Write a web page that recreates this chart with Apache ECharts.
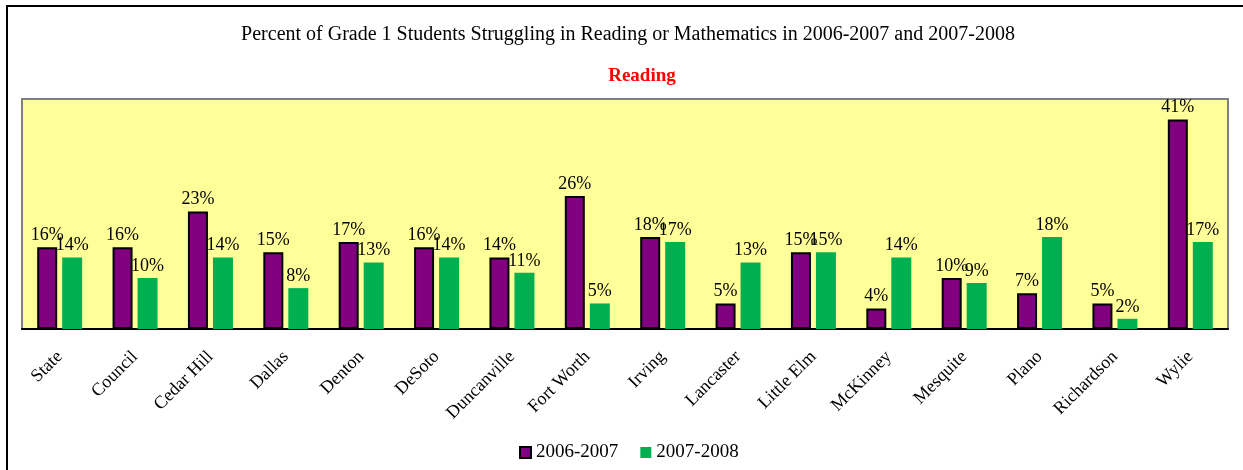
<!DOCTYPE html>
<html>
<head>
<meta charset="utf-8">
<script src="https://cdn.jsdelivr.net/npm/echarts@6/dist/echarts.min.js"></script>
<style>
  body { margin: 0; background: #fff; }
  #chart { width: 1243px; height: 470px; }
</style>
</head>
<body>
<div id="chart"></div>
<script>
// 数据
var districts = ['State', 'Council', 'Cedar Hill', 'Dallas', 'Denton', 'DeSoto', 'Duncanville', 'Fort Worth',
  'Irving', 'Lancaster', 'Little Elm', 'McKinney', 'Mesquite', 'Plano', 'Richardson', 'Wylie']
var year0607 = [16, 16, 23, 15, 17, 16, 14, 26, 18, 5, 15, 4, 10, 7, 5, 41]
var year0708 = [14, 10, 14, 8, 13, 14, 11, 5, 17, 13, 15, 14, 9, 18, 2, 17]

var serif = 'Liberation Serif, Times New Roman, serif'

var myChart = echarts.init(document.getElementById('chart'))

var labelStyle = {
  show: true,
  position: 'top',
  distance: 3,
  formatter: '{c}%',
  color: '#000',
  fontFamily: serif,
  fontSize: 18
}

var option = {
  animation: false,
  title: [
    {
      text: 'Percent of Grade 1 Students Struggling in Reading or Mathematics in 2006-2007 and 2007-2008',
      left: 623,
      textAlign: 'center',
      top: 20,
      textStyle: { fontFamily: serif, fontSize: 20, fontWeight: 'normal', color: '#000' }
    },
    {
      text: 'Reading',
      left: 637,
      textAlign: 'center',
      top: 62,
      textStyle: { fontFamily: serif, fontSize: 19, fontWeight: 'bold', color: '#ff0000' }
    }
  ],
  graphic: [
    {
      type: 'rect',
      shape: { x: 7, y: 6, width: 1260, height: 490 },
      style: { fill: 'none', stroke: '#000', lineWidth: 2 },
      silent: true
    }
  ],
  legend: {
    left: 514,
    top: 438,
    icon: 'rect',
    itemWidth: 11,
    itemHeight: 11,
    itemGap: 22,
    textStyle: { fontFamily: serif, fontSize: 19, color: '#000' },
    data: ['2006-2007', '2007-2008']
  },
  grid: {
    left: 22,
    right: 15,
    top: 99,
    bottom: 141,
    show: true,
    backgroundColor: '#ffff99',
    borderColor: '#808080',
    borderWidth: 2
  },
  xAxis: {
    type: 'category',
    data: districts,
    axisLine: { lineStyle: { color: '#000', width: 2 } },
    axisTick: { show: false },
    axisLabel: {
      rotate: 45,
      margin: 25,
      interval: 0,
      color: '#000',
      fontFamily: serif,
      fontSize: 18
    }
  },
  yAxis: {
    type: 'value',
    min: 0,
    max: 45,
    show: false,
    splitLine: { show: false }
  },
  series: [
    {
      name: '2006-2007',
      type: 'bar',
      data: year0607,
      barWidth: 20,
      barGap: '25%',
      itemStyle: { color: '#800080', borderColor: '#000', borderWidth: 2 },
      label: labelStyle
    },
    {
      name: '2007-2008',
      type: 'bar',
      data: year0708,
      barWidth: 20,
      itemStyle: { color: '#00b050' },
      label: labelStyle
    }
  ]
}

myChart.setOption(option)
</script>
</body>
</html>
